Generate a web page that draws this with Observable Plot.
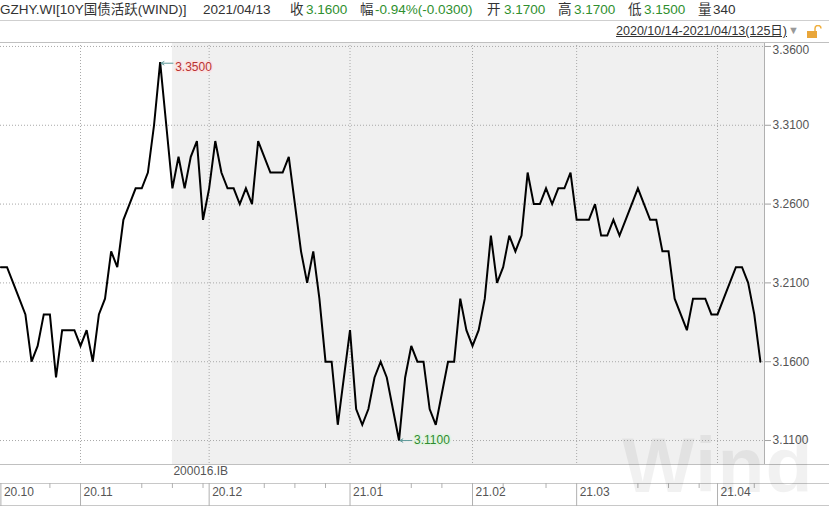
<!DOCTYPE html>
<html><head><meta charset="utf-8">
<script src="https://cdn.jsdelivr.net/npm/d3@7"></script>
<script src="https://cdn.jsdelivr.net/npm/@observablehq/plot@0.6"></script>
<style>
html,body{margin:0;padding:0;background:#fff;}
#wrap{position:relative;width:829px;height:507px;overflow:hidden;font-family:'Liberation Sans',Arial,'Noto Sans CJK SC',sans-serif;color:#333;}
.h{position:absolute;top:0;line-height:20px;font-size:13.5px;white-space:nowrap;color:#333;}
.g{color:#2f8f2f;}
#row1{position:absolute;left:0;top:0;width:829px;height:20px;border-bottom:1px solid #cfcfcf;}
#range{position:absolute;right:42px;top:22px;line-height:18px;font-size:12.5px;text-decoration:underline;color:#333;white-space:nowrap;}
#tri{position:absolute;left:788px;top:24px;font-size:11px;color:#999;}
#lock{position:absolute;left:806px;top:25px;}
#chart{position:absolute;left:0;top:42px;}
#wm{position:absolute;left:622px;top:427px;font-size:77px;font-weight:bold;line-height:76px;letter-spacing:1px;color:rgba(0,0,0,0.055);pointer-events:none;font-family:'Liberation Sans',Arial,sans-serif;}
</style></head>
<body><div id="wrap">
<div id="row1"></div>
<div id="hdr"></div>
<div id="range"></div>
<div id="tri">▼</div>
<svg id="lock" width="16" height="14" viewBox="0 0 16 14"><path d="M9 6 V3.5 a3 3 0 0 1 6 0" fill="none" stroke="#f0b040" stroke-width="1.5"/><rect x="1" y="6" width="10" height="7" fill="#e9a63a"/></svg>
<div id="chart"></div>
<div id="wm">Wind</div>
</div>
<script>
// ---- header text ----
const title = "GZHY.WI[10Y国债活跃(WIND)]";
const lastDate = "2021/04/13";
const quoteLabels = ["收", "幅", "开", "高", "低", "量"];
const quoteValues = ["3.1600", "-0.94%(-0.0300)", "3.1700", "3.1700", "3.1500", "340"];
const rangeLabel = "2020/10/14-2021/04/13(125日)";

// ---- series: daily yield, 2020/10/14 .. 2021/04/13 (125 trading days) ----
const yields = [
  3.22,3.22,3.21,3.20,3.19,3.16,3.17,3.19,3.19,3.15,
  3.18,3.18,3.18,3.17,3.18,3.16,3.19,3.20,3.23,3.22,
  3.25,3.26,3.27,3.27,3.28,3.31,3.35,3.31,3.27,3.29,
  3.27,3.29,3.30,3.25,3.27,3.30,3.28,3.27,3.27,3.26,
  3.27,3.26,3.30,3.29,3.28,3.28,3.28,3.29,3.26,3.23,
  3.21,3.23,3.20,3.16,3.16,3.12,3.15,3.18,3.13,3.12,
  3.13,3.15,3.16,3.15,3.13,3.11,3.15,3.17,3.16,3.16,
  3.13,3.12,3.14,3.16,3.16,3.20,3.18,3.17,3.18,3.20,
  3.24,3.21,3.22,3.24,3.23,3.24,3.28,3.26,3.26,3.27,
  3.26,3.27,3.27,3.28,3.25,3.25,3.25,3.26,3.24,3.24,
  3.25,3.24,3.25,3.26,3.27,3.26,3.25,3.25,3.23,3.23,
  3.20,3.19,3.18,3.20,3.20,3.20,3.19,3.19,3.20,3.21,
  3.22,3.22,3.21,3.19,3.16
];
// ---- axis data ----
const monthIdx = [0, 13, 34, 57, 77, 94, 117];
const monthLabels = ["20.10", "20.11", "20.12", "21.01", "21.02", "21.03", "21.04"];
const weekIdx = [8, 23, 28, 33, 43, 48, 53, 62, 67, 72, 82, 89, 104, 109, 114, 123];
const yTicks = [3.11, 3.16, 3.21, 3.26, 3.31, 3.36];
const switchIdx = 28;
const switchLabel = "200016.IB";

// header
const hdr = document.getElementById("hdr");
const quoteX = [[290, 306], [360, 375], [487, 504], [558, 574], [628, 644], [698, 713]];
function span(txt, x, cls) {
  const s = document.createElement("span");
  s.className = "h" + (cls ? " " + cls : "");
  s.style.left = x + "px";
  s.textContent = txt;
  hdr.appendChild(s);
}
span(title, 0);
span(lastDate, 203);
quoteLabels.forEach((l, k) => {
  span(l, quoteX[k][0]);
  span(quoteValues[k], quoteX[k][1], k < 5 ? "g" : "");
});
document.getElementById("range").textContent = rangeLabel;

// chart
const xDom = [-0.065, 124.67];
const yDom = [3.0948, 3.3625];
const labelByIdx = new Map(monthIdx.map((d, k) => [d, monthLabels[k]]));
const iMax = d3.maxIndex(yields), iMin = d3.minIndex(yields);
const hi = [{i: iMax, v: yields[iMax]}], lo = [{i: iMin, v: yields[iMin]}];
const grid = {stroke: "#a8a8a8", strokeDasharray: "1,2"};

const chart = Plot.plot({
  width: 829, height: 465,
  marginLeft: 0, marginRight: 65, marginTop: 0, marginBottom: 43,
  x: {domain: xDom, axis: null},
  y: {domain: yDom, axis: null},
  style: {fontFamily: "'Liberation Sans', Arial, sans-serif", fontSize: "12px", color: "#555", background: "transparent", overflow: "visible"},
  marks: [
    Plot.rect([switchIdx], {x1: d => d, x2: () => xDom[1], fill: "#f0f0f0"}),
    Plot.ruleY(yTicks, grid),
    Plot.ruleX(monthIdx.slice(1), grid),
    Plot.ruleX([xDom[1]], {stroke: "#b0b0b0"}),
    Plot.ruleY([yDom[1]], {stroke: "#c0c0c0", insetRight: -65}),
    Plot.ruleY([yDom[0]], {stroke: "#c0c0c0", insetRight: -65}),
    Plot.ruleY([yDom[0]], {stroke: "#c8c8c8", insetRight: -65, dy: 19}),
    Plot.ruleY([yDom[0]], {stroke: "#c8c8c8", insetRight: -65, dy: 41}),
    Plot.line(yields, {x: (d, i) => i, y: d => d, stroke: "#000", strokeWidth: 2, strokeLinejoin: "miter", strokeMiterlimit: 3}),
    Plot.arrow(hi, {x1: d => d.i + 2.1, y1: "v", x2: d => d.i + 0.15, y2: "v", dy: 1, stroke: "#5f9a9a", strokeWidth: 1, headLength: 5}),
    Plot.arrow(lo, {x1: d => d.i + 2.1, y1: "v", x2: d => d.i + 0.15, y2: "v", stroke: "#5f9a9a", strokeWidth: 1, headLength: 5}),
    Plot.text(hi, {x: "i", y: "v", text: d => d.v.toFixed(4), dx: 15, dy: 5, textAnchor: "start", fill: "#b83232", stroke: "#fbe3e3", strokeWidth: 3, paintOrder: "stroke", fontSize: 12}),
    Plot.text(lo, {x: "i", y: "v", text: d => d.v.toFixed(4), dx: 15, dy: 0, textAnchor: "start", fill: "#2f8a2f", stroke: "#e2f3e2", strokeWidth: 3, paintOrder: "stroke", fontSize: 12}),
    Plot.axisY(yTicks, {anchor: "right", tickSize: 6, fill: "none", stroke: "#a0a0a0", label: null}),
    Plot.axisY(yTicks.slice(0, -1), {anchor: "right", tickSize: 0, tickPadding: 8, stroke: "none", fill: "#555", tickFormat: d => d.toFixed(4), fontSize: 12, label: null}),
    Plot.axisY(yTicks.slice(-1), {anchor: "right", tickSize: 0, tickPadding: 8, dy: 4, stroke: "none", fill: "#555", tickFormat: d => d.toFixed(4), fontSize: 12, label: null}),
    Plot.text([switchIdx], {x: d => d, frameAnchor: "bottom", dy: 10, dx: 1, textAnchor: "start", text: () => switchLabel, fill: "#555", fontSize: 12}),
    Plot.axisX(monthIdx, {anchor: "bottom", tickSize: 23, dy: 19, fill: "none", stroke: "#b0b0b0", label: null}),
    Plot.axisX(weekIdx, {anchor: "bottom", tickSize: 5, dy: 19, fill: "none", stroke: "#b0b0b0", label: null}),
    Plot.axisX(monthIdx, {anchor: "bottom", tickSize: 0, tickPadding: 0, dy: 23, dx: 3, textAnchor: "start", stroke: "none", fill: "#555", tickFormat: d => labelByIdx.get(d), fontSize: 12, label: null})
  ]
});
document.getElementById("chart").appendChild(chart);
</script>
</body></html>
